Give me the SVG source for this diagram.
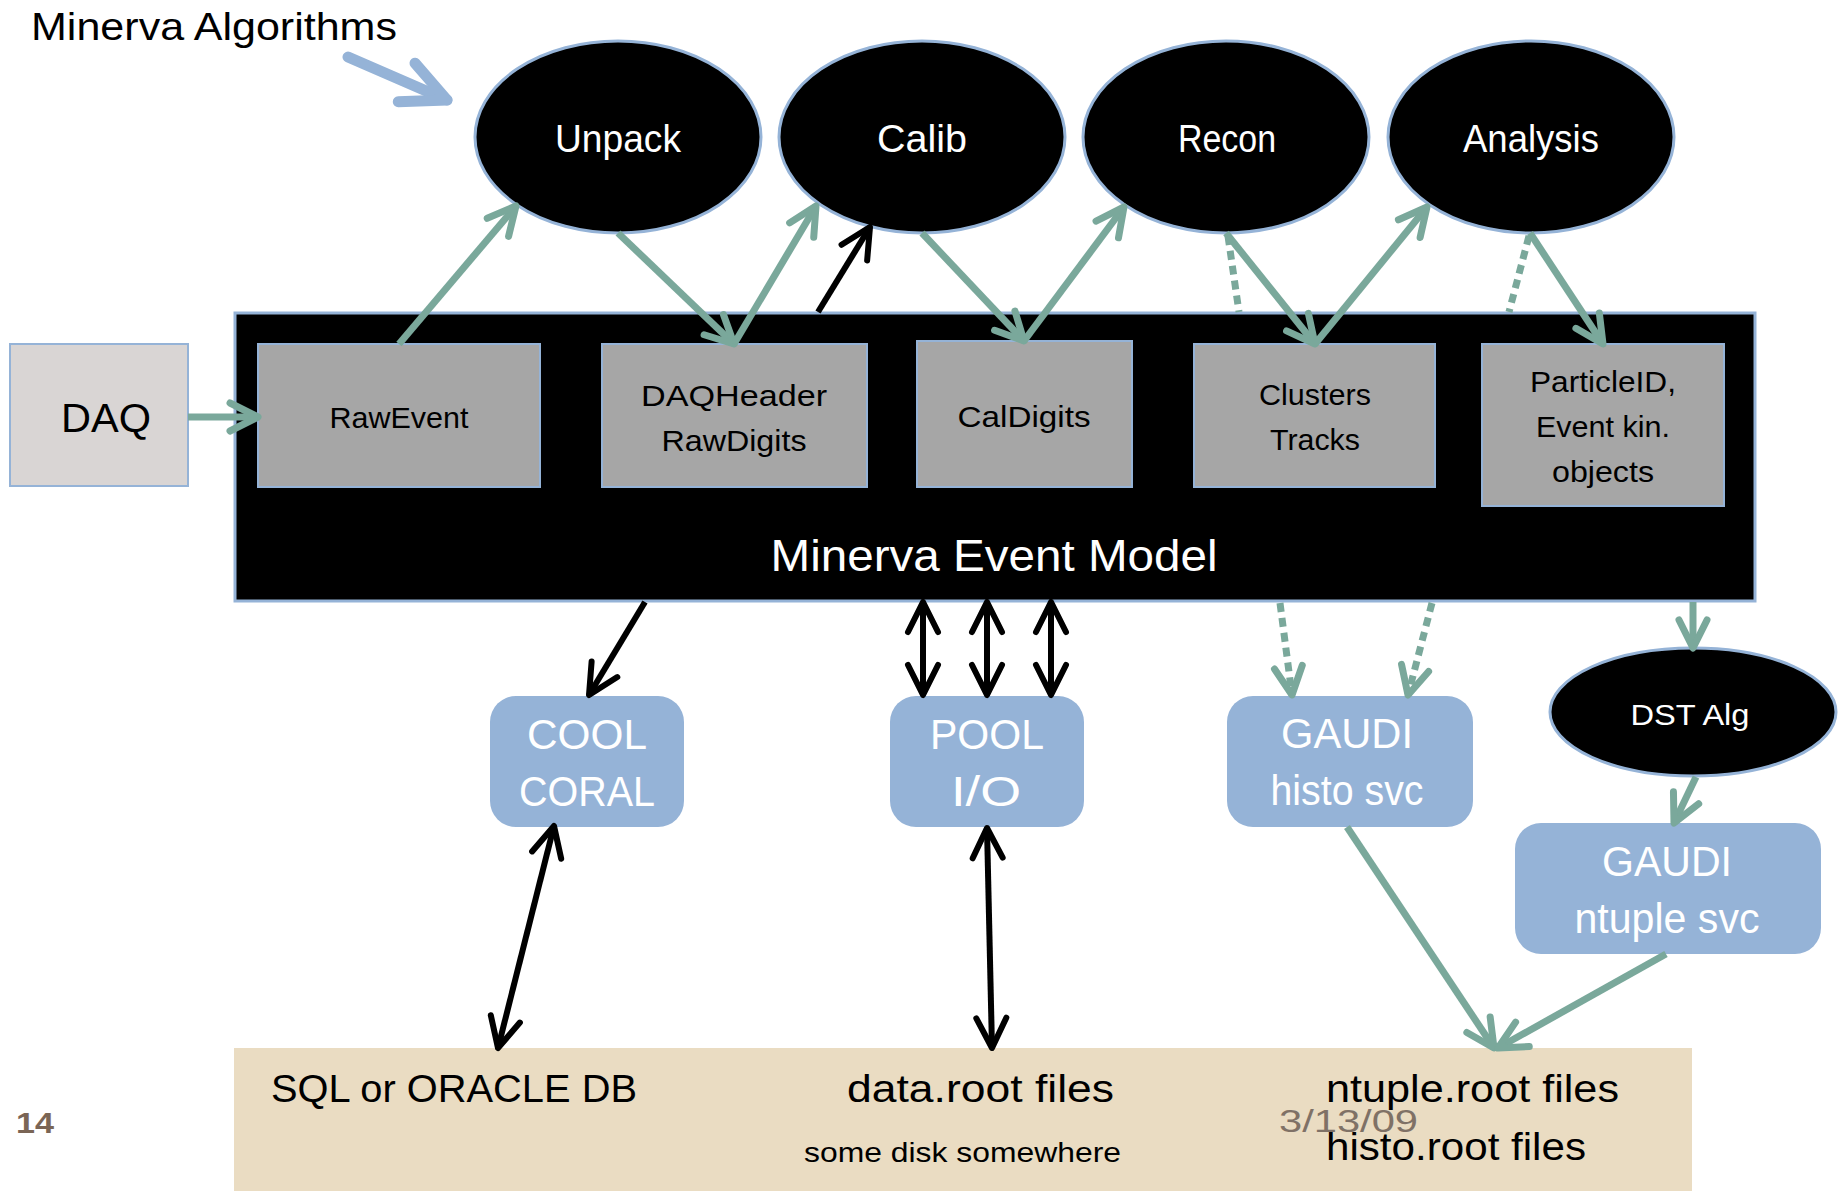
<svg xmlns="http://www.w3.org/2000/svg" width="1845" height="1191" viewBox="0 0 1845 1191">
<style>
text{font-family:"Liberation Sans",Arial,sans-serif;}
.c{text-anchor:middle;}
.w{fill:#ffffff;}
.k{fill:#000000;}
.alg{fill:#000000;stroke:#95b3d7;stroke-width:3;}
.obj{fill:#a6a6a6;stroke:#95b3d7;stroke-width:2;}
.svc{fill:#95b3d7;}
.g{fill:none;stroke:#7aa89b;stroke-width:7;}
.gd{fill:none;stroke:#7aa89b;stroke-width:7;stroke-dasharray:9 6;}
.b{fill:none;stroke:#000000;stroke-width:6;}
</style>
<defs>
<marker id="ag" markerUnits="userSpaceOnUse" viewBox="-40 -25 50 50" markerWidth="50" markerHeight="50" refX="0" refY="0" orient="auto-start-reverse" overflow="visible">
<path d="M-28,-14 L0,0 L-28,14" fill="none" stroke="#7aa89b" stroke-width="7" stroke-linecap="round" stroke-linejoin="round"/>
</marker>
<marker id="ak" markerUnits="userSpaceOnUse" viewBox="-40 -25 50 50" markerWidth="50" markerHeight="50" refX="0" refY="0" orient="auto-start-reverse" overflow="visible">
<path d="M-30,-15 L0,0 L-30,15" fill="none" stroke="#000000" stroke-width="6" stroke-linecap="round" stroke-linejoin="round"/>
</marker>
<marker id="ab" markerUnits="userSpaceOnUse" viewBox="-60 -35 70 70" markerWidth="70" markerHeight="70" refX="0" refY="0" orient="auto" overflow="visible">
<path d="M-44,-21 L0,0 L-44,21" fill="none" stroke="#95b3d7" stroke-width="11" stroke-linecap="round" stroke-linejoin="round"/>
</marker>
</defs>
<rect x="0" y="0" width="1845" height="1191" fill="#ffffff"/>

<text x="31" y="40" font-size="39" class="k" textLength="366" lengthAdjust="spacingAndGlyphs">Minerva Algorithms</text>

<g id="storage">
<rect x="234" y="1048" width="1458" height="143" fill="#eadcc2"/>
<text x="271" y="1102" font-size="38" textLength="366" lengthAdjust="spacingAndGlyphs">SQL or ORACLE DB</text>
<text x="847" y="1102" font-size="38" textLength="267" lengthAdjust="spacingAndGlyphs">data.root files</text>
<text x="804" y="1162" font-size="28" textLength="317" lengthAdjust="spacingAndGlyphs">some disk somewhere</text>
<text x="1326" y="1102" font-size="38" textLength="293" lengthAdjust="spacingAndGlyphs">ntuple.root files</text>
<text x="1326" y="1160" font-size="38" textLength="260" lengthAdjust="spacingAndGlyphs">histo.root files</text>
</g>
<text x="1279" y="1132" font-size="32" fill="#7f7166" textLength="139" lengthAdjust="spacingAndGlyphs">3/13/09</text>
<text x="16" y="1133" font-size="30" font-weight="bold" fill="#7a6555" textLength="38" lengthAdjust="spacingAndGlyphs">14</text>

<g id="event-model">
<rect x="235" y="313" width="1520" height="288" fill="#000000" stroke="#95b3d7" stroke-width="3"/>
<text x="994" y="571" font-size="45" class="c w" textLength="447" lengthAdjust="spacingAndGlyphs">Minerva Event Model</text>
</g>

<g id="daq">
<rect x="10" y="344" width="178" height="142" fill="#d9d5d4" stroke="#95b3d7" stroke-width="2"/>
<text x="106" y="432" font-size="40" class="c k" textLength="90" lengthAdjust="spacingAndGlyphs">DAQ</text>
</g>

<g id="rawevent">
<rect x="258" y="344" width="282" height="143" class="obj"/>
<text x="399" y="428" font-size="30" class="c k" textLength="139" lengthAdjust="spacingAndGlyphs">RawEvent</text>
</g>
<g id="daqheader">
<rect x="602" y="344" width="265" height="143" class="obj"/>
<text x="734" y="406" font-size="30" class="c k" textLength="186" lengthAdjust="spacingAndGlyphs">DAQHeader</text>
<text x="734" y="451" font-size="30" class="c k" textLength="145" lengthAdjust="spacingAndGlyphs">RawDigits</text>
</g>
<g id="caldigits">
<rect x="917" y="341" width="215" height="146" class="obj"/>
<text x="1024" y="427" font-size="30" class="c k" textLength="133" lengthAdjust="spacingAndGlyphs">CalDigits</text>
</g>
<g id="clusters">
<rect x="1194" y="344" width="241" height="143" class="obj"/>
<text x="1315" y="405" font-size="30" class="c k" textLength="112" lengthAdjust="spacingAndGlyphs">Clusters</text>
<text x="1315" y="450" font-size="30" class="c k" textLength="90" lengthAdjust="spacingAndGlyphs">Tracks</text>
</g>
<g id="particleid">
<rect x="1482" y="344" width="242" height="162" class="obj"/>
<text x="1603" y="392" font-size="30" class="c k" textLength="146" lengthAdjust="spacingAndGlyphs">ParticleID,</text>
<text x="1603" y="437" font-size="30" class="c k" textLength="134" lengthAdjust="spacingAndGlyphs">Event kin.</text>
<text x="1603" y="482" font-size="30" class="c k" textLength="102" lengthAdjust="spacingAndGlyphs">objects</text>
</g>

<g id="unpack">
<ellipse cx="618" cy="137" rx="143" ry="96" class="alg"/>
<text x="618" y="152" font-size="38" class="c w" textLength="126" lengthAdjust="spacingAndGlyphs">Unpack</text>
</g>
<g id="calib">
<ellipse cx="922" cy="137" rx="143" ry="96" class="alg"/>
<text x="922" y="152" font-size="38" class="c w" textLength="90" lengthAdjust="spacingAndGlyphs">Calib</text>
</g>
<g id="recon">
<ellipse cx="1226" cy="137" rx="143" ry="96" class="alg"/>
<text x="1227" y="152" font-size="38" class="c w" textLength="98" lengthAdjust="spacingAndGlyphs">Recon</text>
</g>
<g id="analysis">
<ellipse cx="1531" cy="137" rx="143" ry="96" class="alg"/>
<text x="1531" y="152" font-size="38" class="c w" textLength="136" lengthAdjust="spacingAndGlyphs">Analysis</text>
</g>
<g id="dstalg">
<ellipse cx="1693" cy="712" rx="143" ry="64" class="alg"/>
<text x="1690" y="725" font-size="30" class="c w" textLength="119" lengthAdjust="spacingAndGlyphs">DST Alg</text>
</g>

<g id="cool">
<rect x="490" y="696" width="194" height="131" rx="26" class="svc"/>
<text x="587" y="749" font-size="42" class="c w" textLength="120" lengthAdjust="spacingAndGlyphs">COOL</text>
<text x="587" y="806" font-size="42" class="c w" textLength="136" lengthAdjust="spacingAndGlyphs">CORAL</text>
</g>
<g id="pool">
<rect x="890" y="696" width="194" height="131" rx="26" class="svc"/>
<text x="987" y="749" font-size="42" class="c w" textLength="114" lengthAdjust="spacingAndGlyphs">POOL</text>
<text x="986" y="806" font-size="42" class="c w" textLength="70" lengthAdjust="spacingAndGlyphs">I/O</text>
</g>
<g id="histosvc">
<rect x="1227" y="696" width="246" height="131" rx="26" class="svc"/>
<text x="1347" y="748" font-size="42" class="c w" textLength="132" lengthAdjust="spacingAndGlyphs">GAUDI</text>
<text x="1347" y="805" font-size="42" class="c w" textLength="153" lengthAdjust="spacingAndGlyphs">histo svc</text>
</g>
<g id="ntuplesvc">
<rect x="1515" y="823" width="306" height="131" rx="26" class="svc"/>
<text x="1667" y="876" font-size="42" class="c w" textLength="130" lengthAdjust="spacingAndGlyphs">GAUDI</text>
<text x="1667" y="933" font-size="42" class="c w" textLength="185" lengthAdjust="spacingAndGlyphs">ntuple svc</text>
</g>

<g id="connectors">
<path d="M348,57 L447,100" fill="none" stroke="#95b3d7" stroke-width="11" stroke-linecap="round" marker-end="url(#ab)"/>
<path d="M188,417 L258,417" class="g" marker-end="url(#ag)"/>
<path d="M399,344 L516,206" class="g" marker-end="url(#ag)"/>
<path d="M618,233 L734,344" class="g" marker-end="url(#ag)"/>
<path d="M734,344 L816,206" class="g" marker-end="url(#ag)"/>
<path d="M818,312 L870,227" class="b" marker-end="url(#ak)"/>
<path d="M922,233 L1024,341" class="g" marker-end="url(#ag)"/>
<path d="M1024,341 L1124,207" class="g" marker-end="url(#ag)"/>
<path d="M1226,233 L1315,344" class="g" marker-end="url(#ag)"/>
<path d="M1228,236 L1239,312" class="gd"/>
<path d="M1315,344 L1427,207" class="g" marker-end="url(#ag)"/>
<path d="M1530,233 L1603,344" class="g" marker-end="url(#ag)"/>
<path d="M1529,236 L1509,312" class="gd"/>
<path d="M645,602 L589,695" class="b" marker-end="url(#ak)"/>
<path d="M923,602 L923,695" class="b" marker-start="url(#ak)" marker-end="url(#ak)"/>
<path d="M987,602 L987,695" class="b" marker-start="url(#ak)" marker-end="url(#ak)"/>
<path d="M1051,602 L1051,695" class="b" marker-start="url(#ak)" marker-end="url(#ak)"/>
<path d="M1280,603 L1292,695" class="gd" marker-end="url(#ag)"/>
<path d="M1432,603 L1408,695" class="gd" marker-end="url(#ag)"/>
<path d="M1693,602 L1693,648" class="g" marker-end="url(#ag)"/>
<path d="M1696,777 L1674,823" class="g" marker-end="url(#ag)"/>
<path d="M554,826 L498,1048" class="b" marker-start="url(#ak)" marker-end="url(#ak)"/>
<path d="M987,828 L992,1048" class="b" marker-start="url(#ak)" marker-end="url(#ak)"/>
<path d="M1347,827 L1494,1048" class="g" marker-end="url(#ag)"/>
<path d="M1666,954 L1498,1048" class="g" marker-end="url(#ag)"/>
</g>
</svg>
